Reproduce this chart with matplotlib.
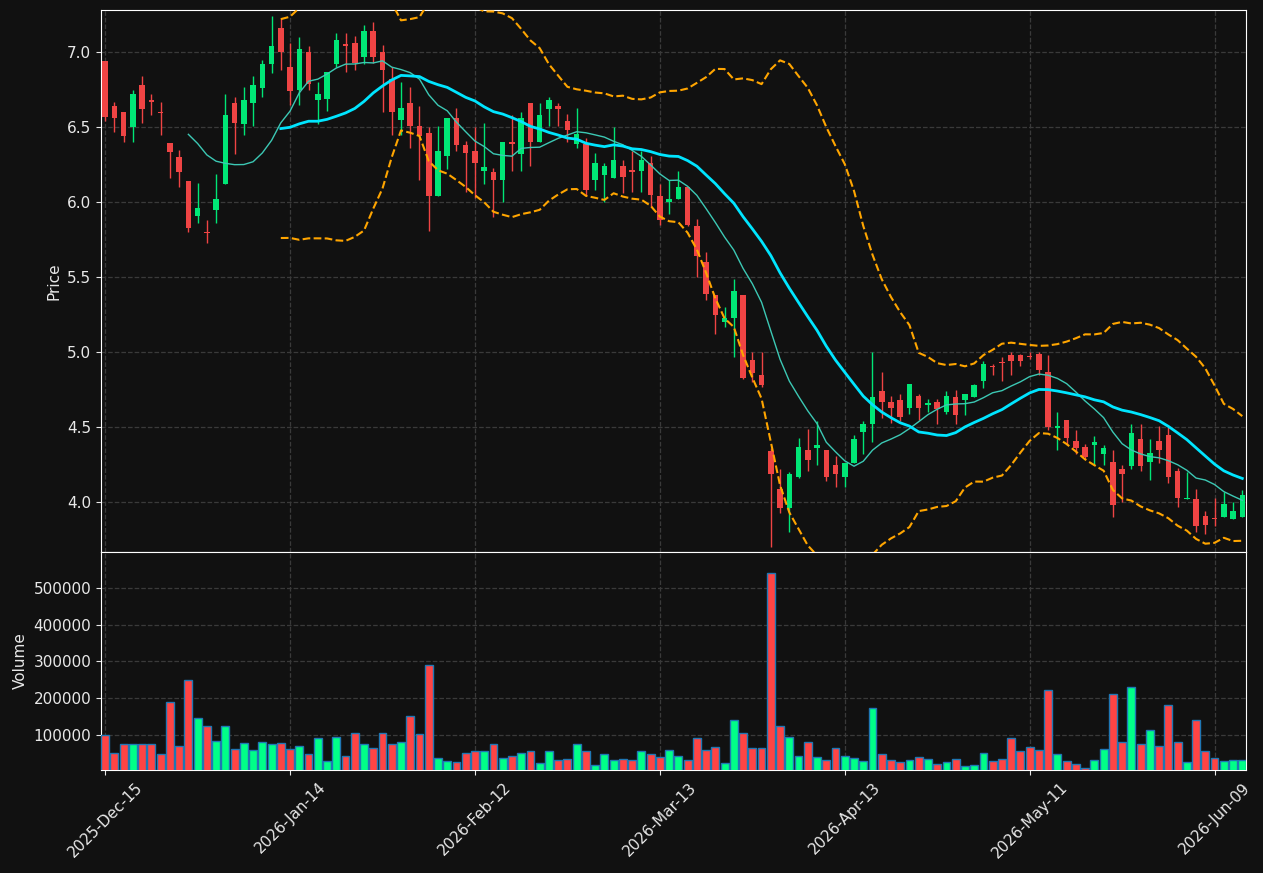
import numpy as np
import pandas as pd
import matplotlib
matplotlib.use("Agg")
import matplotlib.pyplot as plt

tick_labels = ['2025-Dec-15', '2026-Jan-14', '2026-Feb-12', '2026-Mar-13',
               '2026-Apr-13', '2026-May-11', '2026-Jun-09']
tick_index = [0, 20, 40, 60, 80, 100, 120]

opens = [6.94, 6.64, 6.60, 6.50, 6.78, 6.683, 6.60, 6.395, 6.30, 6.14,
         5.91, 5.803, 5.95, 6.12, 6.66, 6.52, 6.66, 6.76, 6.92, 7.16,
         6.90, 6.75, 7.00, 6.68, 6.69, 6.92, 7.056, 7.06, 6.97, 7.14,
         7.00, 6.82, 6.55, 6.66, 6.51, 6.46, 6.04, 6.31, 6.56, 6.38,
         6.34, 6.21, 6.20, 6.15, 6.402, 6.32, 6.66, 6.40, 6.62, 6.64,
         6.54, 6.39, 6.39, 6.15, 6.18, 6.16, 6.24, 6.217, 6.21, 6.26,
         6.04, 6.00, 6.02, 6.10, 5.84, 5.60, 5.38, 5.20, 5.23, 5.38,
         4.95, 4.85, 4.34, 4.09, 3.96, 4.17, 4.35, 4.36, 4.35, 4.25,
         4.17, 4.26, 4.47, 4.52, 4.74, 4.67, 4.68, 4.63, 4.71, 4.646,
         4.67, 4.60, 4.70, 4.68, 4.70, 4.81, 4.905, 4.933, 4.98, 4.98,
         4.972, 4.99, 4.87, 4.495, 4.55, 4.41, 4.37, 4.38, 4.32, 4.27,
         4.22, 4.24, 4.42, 4.27, 4.41, 4.45, 4.21, 4.02, 4.02, 3.91,
         3.89, 3.90, 3.89, 3.90]
highs = [6.94, 6.67, 6.60, 6.75, 6.84, 6.72, 6.67, 6.395, 6.35, 6.14,
         6.13, 5.88, 6.19, 6.72, 6.70, 6.77, 6.84, 6.95, 7.24, 7.23,
         7.06, 7.10, 7.04, 6.80, 6.87, 7.13, 7.13, 7.11, 7.18, 7.20,
         7.05, 6.90, 6.80, 6.77, 6.64, 6.50, 6.51, 6.56, 6.63, 6.41,
         6.50, 6.53, 6.23, 6.40, 6.58, 6.60, 6.66, 6.66, 6.70, 6.66,
         6.59, 6.63, 6.43, 6.33, 6.26, 6.50, 6.28, 6.34, 6.34, 6.31,
         6.12, 6.15, 6.21, 6.10, 5.89, 5.67, 5.38, 5.30, 5.49, 5.38,
         5.00, 5.00, 4.36, 4.22, 4.20, 4.43, 4.49, 4.54, 4.35, 4.31,
         4.26, 4.45, 4.54, 5.00, 4.87, 4.71, 4.72, 4.79, 4.72, 4.69,
         4.69, 4.74, 4.75, 4.72, 4.79, 4.94, 4.92, 4.97, 5.00, 4.99,
         5.005, 5.005, 4.98, 4.60, 4.55, 4.48, 4.39, 4.44, 4.38, 4.35,
         4.25, 4.52, 4.52, 4.42, 4.51, 4.50, 4.23, 4.20, 4.09, 3.94,
         4.03, 4.07, 4.00, 4.08]
lows = [6.54, 6.47, 6.40, 6.40, 6.53, 6.58, 6.45, 6.16, 6.10, 5.80,
        5.86, 5.73, 5.86, 6.12, 6.32, 6.45, 6.51, 6.70, 6.86, 6.88,
        6.65, 6.65, 6.75, 6.52, 6.61, 6.90, 6.87, 6.88, 6.92, 6.93,
        6.60, 6.45, 6.45, 6.36, 6.15, 5.81, 6.04, 6.22, 6.34, 6.07,
        6.03, 6.12, 5.90, 6.00, 6.21, 6.21, 6.24, 6.40, 6.51, 6.51,
        6.40, 6.36, 6.04, 6.08, 6.00, 6.16, 6.06, 6.07, 6.07, 5.97,
        5.85, 5.92, 6.02, 5.84, 5.50, 5.35, 5.12, 5.17, 4.97, 4.82,
        4.80, 4.77, 3.70, 3.93, 3.80, 4.16, 4.21, 4.25, 4.14, 4.10,
        4.10, 4.26, 4.32, 4.40, 4.56, 4.53, 4.54, 4.59, 4.55, 4.60,
        4.52, 4.59, 4.52, 4.58, 4.70, 4.76, 4.85, 4.81, 4.85, 4.91,
        4.955, 4.85, 4.48, 4.35, 4.38, 4.32, 4.29, 4.25, 4.25, 3.90,
        4.00, 4.22, 4.21, 4.15, 4.26, 4.13, 3.97, 4.02, 3.80, 3.79,
        3.84, 3.90, 3.89, 3.90]
closes = [6.57, 6.56, 6.44, 6.72, 6.62, 6.671, 6.595, 6.333, 6.20, 5.83,
          5.96, 5.798, 6.02, 6.58, 6.53, 6.68, 6.78, 6.92, 7.04, 7.00,
          6.74, 7.02, 6.79, 6.72, 6.87, 7.08, 7.04, 6.93, 7.14, 6.97,
          6.88, 6.60, 6.63, 6.51, 6.44, 6.04, 6.34, 6.56, 6.38, 6.33,
          6.26, 6.235, 6.15, 6.40, 6.388, 6.56, 6.40, 6.58, 6.68, 6.62,
          6.48, 6.455, 6.08, 6.26, 6.24, 6.28, 6.17, 6.205, 6.28, 6.05,
          5.88, 6.02, 6.10, 5.85, 5.64, 5.39, 5.25, 5.23, 5.41, 4.83,
          4.86, 4.78, 4.19, 3.96, 4.19, 4.37, 4.28, 4.38, 4.17, 4.19,
          4.26, 4.42, 4.52, 4.70, 4.67, 4.63, 4.57, 4.79, 4.63, 4.66,
          4.62, 4.71, 4.58, 4.72, 4.78, 4.92, 4.90, 4.928, 4.94, 4.94,
          4.968, 4.88, 4.50, 4.51, 4.43, 4.36, 4.30, 4.40, 4.36, 3.98,
          4.19, 4.46, 4.24, 4.33, 4.35, 4.17, 4.03, 4.03, 3.84, 3.85,
          3.888, 3.99, 3.94, 4.05]
volumes = [100000, 51000, 77000, 77000, 77000, 75000, 48000, 191000, 70000, 250000,
           148000, 126000, 84000, 124000, 62000, 80000, 59000, 83000, 75000, 80000,
           62000, 72000, 48000, 92000, 31000, 95000, 45000, 107000, 77000, 66000,
           105000, 77000, 83000, 151000, 102000, 290000, 37000, 31000, 28000, 53000,
           56000, 58000, 75000, 39000, 45000, 53000, 56000, 26000, 58000, 34000,
           36000, 77000, 56000, 20000, 50000, 34000, 36000, 34000, 58000, 50000,
           42000, 61000, 45000, 34000, 92000, 61000, 69000, 26000, 140000, 105000,
           66000, 66000, 540000, 126000, 96000, 45000, 83000, 42000, 34000, 66000,
           45000, 39000, 31000, 173000, 50000, 34000, 28000, 34000, 42000, 36000,
           23000, 28000, 36000, 17000, 20000, 53000, 31000, 36000, 92000, 56000,
           69000, 61000, 224000, 50000, 31000, 23000, 12000, 34000, 64000, 213000,
           83000, 230000, 77000, 113000, 72000, 181000, 83000, 28000, 140000, 56000,
           39000, 31000, 34000, 34000]

o = np.array(opens); h = np.array(highs); l = np.array(lows); c = np.array(closes)
v = np.array(volumes)
n = len(c)
x = np.arange(n)

cs = pd.Series(c)
sma10 = cs.rolling(10).mean()
sma20 = cs.rolling(20).mean()
std20 = cs.rolling(20).std()
upper = sma20 + 2 * std20
lower = sma20 - 2 * std20

BG = '#111111'
FG = '#e8e8e8'
GRID = '#3a3a3a'

fig = plt.figure(figsize=(12.63, 8.73), dpi=100, facecolor=BG)
ax1 = fig.add_axes([101 / 1263, 1 - 552 / 873, 1145 / 1263, 542 / 873])
ax2 = fig.add_axes([101 / 1263, 1 - 770 / 873, 1145 / 1263, 218 / 873], sharex=ax1)

up = c >= o
ccol = np.where(up, '#00e676', '#ef4444')
vcol = np.where(up, '#00ff88', '#ff4444')

ax1.vlines(x, l, h, colors=ccol, linewidth=1, zorder=3)
ax1.bar(x, np.maximum(np.abs(c - o), 0.007), bottom=np.minimum(o, c), width=0.6,
        color=ccol, linewidth=0, zorder=4)
ax1.plot(x, sma10, color='#3cc8b4', lw=1, zorder=5)
ax1.plot(x, sma20, color='#00e5ff', lw=2, zorder=5)
ax1.plot(x, upper, color='orange', lw=1.5, ls='--', zorder=5)
ax1.plot(x, lower, color='orange', lw=1.5, ls='--', zorder=5)

ax2.bar(x, v, width=0.85, color=vcol, edgecolor='#1f77b4', linewidth=1, zorder=3)

for ax in (ax1, ax2):
    ax.set_facecolor(BG)
    ax.grid(True, color=GRID, linestyle='--', linewidth=0.9)
    ax.set_axisbelow(True)
    for s in ax.spines.values():
        s.set_color('white')
    ax.tick_params(colors=FG, labelsize=11)

ax1.set_xlim(-0.45, 123.4)
ax1.set_ylim(3.669, 7.283)
ax1.set_yticks([4.0, 4.5, 5.0, 5.5, 6.0, 6.5, 7.0])
ax1.set_yticklabels([f'{t:.1f}' for t in [4.0, 4.5, 5.0, 5.5, 6.0, 6.5, 7.0]])
ax1.tick_params(axis='x', labelbottom=False)
ax1.set_ylabel('Price', color=FG, fontsize=11)

ax2.set_ylim(5700, 597000)
ax2.set_yticks([100000, 200000, 300000, 400000, 500000])
ax2.set_yticklabels([str(t) for t in [100000, 200000, 300000, 400000, 500000]])
ax2.set_xticks(tick_index)
ax2.set_xticklabels(tick_labels, rotation=45, ha='center')
ax2.set_ylabel('Volume', color=FG, fontsize=11)

fig.savefig('out.png', dpi=100, facecolor=BG)
